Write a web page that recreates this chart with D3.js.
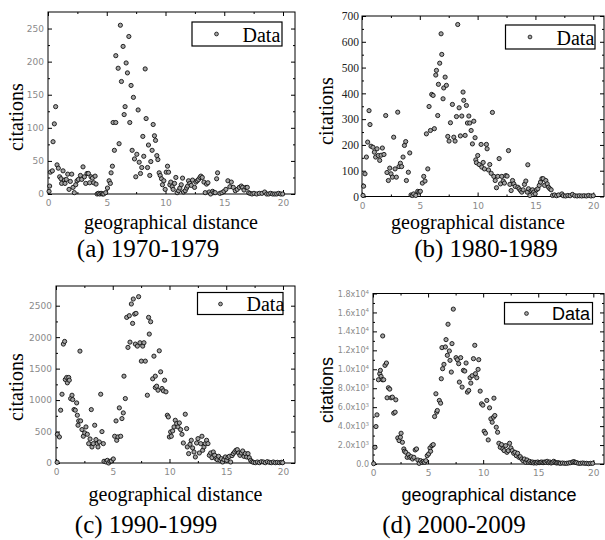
<!DOCTYPE html>
<html>
<head>
<meta charset="utf-8">
<script src="https://cdn.jsdelivr.net/npm/d3@7/dist/d3.min.js"></script>
<style>
  html, body { margin: 0; padding: 0; background: #fff; }
  svg { display: block; }
</style>
</head>
<body>
<svg id="chart" width="605" height="540"></svg>
<script>
// ---------------- DATA ----------------
const xTicks = [0, 5, 10, 15, 20];
const yTicksA = [0, 50, 100, 150, 200, 250];
const yTicksB = [0, 100, 200, 300, 400, 500, 600, 700];
const yTicksC = [0, 500, 1000, 1500, 2000, 2500];
const yTicksD = [0, 2000, 4000, 6000, 8000, 10000, 12000, 14000, 16000, 18000];
const captions = ["(a) 1970-1979", "(b) 1980-1989", "(c) 1990-1999", "(d) 2000-2009"];
const legendLabel = "Data";
const xLabel = "geographical distance";
const yLabel = "citations";

// (a) 1970-1979
const distA = [0.09,0.14,0.20,0.37,0.43,0.54,0.65,0.77,0.88,0.99,
  1.11,1.16,1.28,1.39,1.45,1.56,1.68,1.79,1.90,2.02,
  2.13,2.24,2.36,2.47,2.59,2.76,2.87,2.98,3.10,3.21,
  3.32,3.44,3.55,3.66,3.78,3.89,4.01,4.09,4.18,4.29,
  4.40,4.52,4.63,4.74,4.91,5.06,5.20,5.31,5.37,5.48,
  5.54,5.65,5.77,5.77,5.97,6.05,6.16,6.25,6.39,6.48,
  6.56,6.65,6.76,6.88,6.96,7.07,7.16,7.27,7.36,7.47,
  7.56,7.67,7.76,7.87,7.98,8.07,8.15,8.27,8.35,8.47,
  8.55,8.66,8.75,8.86,8.95,9.06,9.15,9.26,9.35,9.46,
  9.55,9.66,9.74,9.86,9.97,10.06,10.17,10.26,10.37,10.45,
  10.57,10.65,10.77,10.88,10.99,11.11,11.22,11.34,11.45,11.53,
  11.68,11.79,11.88,11.96,12.07,12.19,12.30,12.47,12.59,12.70,
  12.81,12.93,13.01,13.13,13.27,13.38,13.49,13.61,13.72,13.84,
  14.01,14.12,14.23,14.35,14.43,14.63,14.80,14.97,15.14,15.31,
  15.48,15.60,15.77,15.94,16.11,16.28,16.45,16.56,16.68,16.85,
  16.96,17.07,17.19,17.36,17.53,17.76,17.98,18.21,18.44,18.61,
  18.78,18.95,19.12,19.29,19.46,19.63,19.80,19.97];
const citeA = [4,12,33,35,79,106,132,44,39,26,
  23,16,35,21,16,22,30,7,19,30,
  10,2,14,20,22,28,22,41,26,16,
  31,31,17,26,24,17,27,15,0,1,
  0,1,0,0,2,9,20,16,32,42,
  108,66,108,209,190,76,255,170,223,120,
  132,198,183,238,108,164,66,146,53,26,
  60,127,48,31,40,87,57,189,114,40,
  74,28,49,66,105,88,81,58,52,32,
  28,23,14,20,7,33,42,33,14,18,
  11,7,16,25,2,5,9,14,24,3,
  5,9,12,20,16,13,21,10,18,20,
  22,25,27,25,18,2,15,17,3,0,
  4,2,2,23,32,1,2,4,7,20,
  11,18,10,5,7,10,12,10,6,10,
  10,2,1,0,1,0,1,1,3,0,
  0,1,0,0,0,1,0,0];

// (b) 1980-1989
const distB = [0.09,0.14,0.26,0.38,0.49,0.61,0.69,0.78,0.95,1.07,
  1.18,1.30,1.41,1.53,1.65,1.76,1.90,2.05,2.16,2.28,
  2.40,2.51,2.63,2.74,2.86,2.97,3.09,3.20,3.32,3.43,
  3.55,3.67,3.78,3.84,4.01,4.13,4.24,4.36,4.47,4.65,
  4.82,4.94,5.05,5.22,5.34,5.45,5.57,5.69,5.80,5.92,
  6.03,6.15,6.26,6.38,6.44,6.55,6.61,6.72,6.84,6.90,
  7.01,7.07,7.19,7.30,7.42,7.53,7.65,7.82,7.94,8.05,
  8.17,8.28,8.40,8.51,8.63,8.74,8.80,8.92,9.03,9.12,
  9.24,9.32,9.44,9.55,9.67,9.78,9.84,9.90,10.01,10.13,
  10.30,10.36,10.48,10.59,10.76,10.82,10.94,11.05,11.17,11.28,
  11.40,11.52,11.63,11.75,11.86,11.98,12.09,12.21,12.32,12.44,
  12.55,12.67,12.79,12.90,13.02,13.13,13.25,14.34,13.48,13.59,
  13.71,13.82,13.94,14.05,14.17,14.29,14.40,14.52,14.63,14.75,
  14.86,14.98,15.09,15.21,15.33,15.44,15.56,15.67,15.79,15.90,
  16.02,16.13,16.25,16.36,16.48,16.65,16.83,17.00,17.29,17.40,
  17.60,17.80,18.00,18.20,18.40,18.60,18.80,19.00,19.20,19.40,
  19.60,19.80,20.00];
const citeB = [4,40,88,153,211,333,279,195,191,172,
  153,185,159,140,160,188,163,314,93,62,
  110,88,75,230,107,75,327,116,129,116,
  153,198,213,62,94,169,6,4,10,4,
  20,17,20,52,78,60,243,107,349,256,
  396,392,263,471,489,314,435,517,631,551,
  379,421,463,431,233,215,286,357,230,215,
  310,667,344,235,312,405,373,237,353,285,
  312,285,256,204,292,228,142,131,159,124,
  202,114,132,107,202,185,103,124,90,326,
  78,62,34,78,147,49,78,60,52,81,
  79,178,47,23,62,49,39,123,36,30,
  23,17,26,47,60,17,30,4,23,26,
  17,10,26,30,43,56,69,69,43,62,
  49,36,30,26,4,6,3,6,10,3,
  2,4,3,8,3,2,3,2,3,2,
  4,2,3];

// (c) 1990-1999
const distC = [0.10,0.12,0.30,0.41,0.53,0.65,0.76,0.82,0.94,1.00,
  1.12,1.17,1.29,1.41,1.47,1.59,1.70,1.82,1.88,1.94,
  2.00,2.11,2.17,2.29,2.41,2.53,2.64,2.76,2.88,3.00,
  3.11,3.17,3.29,3.41,3.52,3.64,3.70,3.82,3.94,4.05,
  4.17,4.23,4.41,4.52,4.64,4.76,4.88,5.05,5.17,5.29,
  5.35,5.46,5.58,5.70,5.81,5.93,5.99,6.11,6.23,6.34,
  6.46,6.52,6.64,6.75,6.81,6.93,6.99,7.05,7.17,7.28,
  7.40,7.52,7.64,7.75,7.87,8.05,8.16,8.22,8.34,8.52,
  8.63,8.75,8.75,8.87,8.99,9.10,9.22,9.34,9.46,9.57,
  9.69,9.81,9.90,9.99,10.10,10.16,10.28,10.40,10.51,10.63,
  10.75,10.87,10.98,11.10,11.22,11.39,11.51,11.57,11.69,11.81,
  11.92,12.04,12.16,12.28,12.39,12.51,12.63,12.75,12.86,12.92,
  13.04,13.16,13.27,13.39,13.51,13.63,13.74,13.86,13.98,14.10,
  14.21,14.33,14.45,14.57,14.68,14.80,14.92,15.04,15.15,15.27,
  15.39,15.51,15.62,15.74,15.86,15.98,16.09,16.21,16.33,16.45,
  16.56,16.68,16.80,16.92,17.03,17.15,17.27,17.39,17.56,17.74,
  17.92,18.09,18.27,18.44,18.62,18.80,18.97,19.15,19.32,19.50,
  19.68,19.85,19.97];
const citeC = [10,456,414,839,1093,1890,1932,1327,1359,1274,
  1359,1316,1024,1077,1008,849,839,955,759,600,
  669,1778,669,531,425,478,573,456,308,382,
  849,255,308,600,372,308,255,334,1093,499,
  308,27,16,42,0,27,32,64,425,669,
  361,414,876,425,706,796,1380,1024,2314,1837,
  2341,1921,2527,2219,2606,2367,1890,2378,1858,2643,
  1911,1619,1858,1911,1619,1077,2314,2049,2245,1338,
  1698,1380,1200,1221,1157,1783,1449,1184,1147,1316,
  1131,759,732,414,494,425,510,573,679,626,
  573,637,531,456,318,775,547,255,149,297,
  361,239,175,96,318,387,159,308,425,202,
  255,308,361,308,122,159,85,175,122,69,
  53,106,42,69,16,53,96,42,85,106,
  16,117,149,175,202,212,159,122,159,191,
  106,149,96,149,85,42,21,11,5,16,
  5,21,16,5,21,11,5,16,5,11,
  5,11,5];

// (d) 2000-2009
const distD = [0.06,0.18,0.27,0.36,0.49,0.61,0.67,0.73,0.85,0.88,
  0.97,1.09,1.22,1.28,1.40,1.52,1.64,1.76,1.88,2.01,
  2.07,2.25,2.37,2.49,2.55,2.67,2.80,2.86,2.98,3.10,
  3.22,3.34,3.47,3.59,3.71,3.83,3.95,4.07,4.19,4.32,
  4.44,4.56,4.68,4.80,4.92,5.05,5.17,5.23,5.35,5.47,
  5.59,5.71,5.78,5.84,6.02,6.14,6.20,6.26,6.32,6.44,
  6.57,6.63,6.75,6.81,6.93,6.99,7.11,7.17,7.29,7.54,
  7.66,7.78,7.84,7.96,8.09,8.21,8.33,8.45,8.57,8.69,
  8.81,8.88,9.00,9.12,9.24,9.30,9.42,9.54,9.60,9.73,
  9.85,9.97,10.09,10.21,10.33,10.46,10.58,10.70,10.82,10.94,
  10.98,11.06,11.19,11.31,11.43,11.55,11.67,11.79,11.91,12.04,
  12.16,12.28,12.40,12.52,12.64,12.77,12.89,13.01,13.13,13.25,
  13.37,13.50,13.62,13.74,13.86,13.98,14.10,14.22,14.35,14.47,
  14.59,14.71,14.83,14.95,15.08,15.20,15.32,15.44,15.56,15.68,
  15.81,15.93,16.05,16.17,16.29,16.41,16.53,16.66,16.78,16.90,
  17.02,17.20,17.39,17.57,17.75,17.93,18.12,18.24,18.36,18.48,
  18.66,18.84,19.03,19.21,19.39,19.57,19.76,19.94];
const citeD = [35,1765,3953,5189,8895,9530,9884,9248,8895,13519,
  8895,10413,10660,6989,8048,7907,6989,7060,5365,5471,
  6777,2753,2471,2824,3247,2294,1588,1341,1235,706,
  988,706,776,529,706,1483,1588,424,71,353,
  176,282,176,353,882,1059,1694,1341,1941,2047,
  5012,7413,5471,5648,6707,6424,9001,12284,10060,10519,
  12355,13131,11472,14755,11931,10943,9707,12708,16350,11225,
  11013,10590,8648,11225,8119,9884,9813,10660,7589,7766,
  9107,8542,9319,11119,12531,9531,9107,9989,11013,7695,
  6354,6212,3459,3247,6707,2541,5930,4765,4412,4942,
  6950,5118,3883,3353,2188,1765,2047,1588,1412,1941,
  1235,1412,2188,1694,1412,1130,1235,882,1130,706,
  776,529,353,529,176,424,176,282,141,212,
  106,176,106,212,141,176,212,141,212,176,
  282,141,212,106,176,282,176,106,141,106,
  71,106,71,71,106,141,212,247,176,141,
  71,71,106,71,71,35,71,71];

// ---------------- LAYOUT ----------------
const svg = d3.select("#chart");
const SERIF = "'Liberation Serif', 'Times New Roman', serif";
const SANS = "'Liberation Sans', Arial, sans-serif";
const TICKFONT = "'DejaVu Sans', sans-serif";

function supFormat(d) {
  if (d === 0) return { m: "0.0", e: null };
  const e = Math.floor(Math.log10(d) + 1e-9);
  const m = (d / Math.pow(10, e)).toFixed(1);
  return { m: m + "x10", e: String(e) };
}

const panels = [
  { xs: distA, ys: citeA, L: 48, T: 12, R: 295, B: 194, xMax: 21.02, yMax: 275, yTicks: yTicksA,
    yTickFont: TICKFONT, yTickSize: 9, yTickColor: "#8a8a8a", yPad: 4, labelFont: SERIF, labelSize: 20,
    ylx: 22.5, yly: 117, xlx: 171, xly: 228.5, capx: 148, capy: 256.5,
    leg: { x0: 192, y0: 22, x1: 282, y1: 46, mx: 216.5, my: 34, tx: 242.5, ty: 41.5 }, cap: captions[0], fmt: "plain" },
  { xs: distB, ys: citeB, L: 362, T: 16, R: 604, B: 196.5, xMax: 20.93, yMax: 700, yTicks: yTicksB,
    yTickFont: SERIF, yTickSize: 11.5, yTickColor: "#222", yPad: 3, labelFont: SERIF, labelSize: 20,
    ylx: 333, yly: 111, xlx: 478, xly: 228.5, capx: 486, capy: 256.5,
    leg: { x0: 505.5, y0: 25, x1: 595, y1: 49, mx: 530, my: 37, tx: 556.5, ty: 44.5 }, cap: captions[1], fmt: "plain" },
  { xs: distC, ys: citeC, L: 56, T: 286, R: 295, B: 463, xMax: 21.06, yMax: 2813, yTicks: yTicksC,
    yTickFont: TICKFONT, yTickSize: 9, yTickColor: "#8a8a8a", yPad: 4, labelFont: SERIF, labelSize: 20,
    ylx: 23, yly: 387, xlx: 175.5, xly: 501, capx: 146, capy: 533,
    leg: { x0: 197.5, y0: 292.5, x1: 283, y1: 314.5, mx: 220.5, my: 304, tx: 246.5, ty: 310.5 }, cap: captions[2], fmt: "plain" },
  { xs: distD, ys: citeD, L: 373, T: 293.5, R: 604, B: 464, xMax: 20.97, yMax: 18000, yTicks: yTicksD,
    yTickFont: TICKFONT, yTickSize: 8, yTickColor: "#8a8a8a", yPad: 4, labelFont: SANS, labelSize: 18,
    ylx: 333, yly: 390, xlx: 489, xly: 501, capx: 454, capy: 533,
    leg: { x0: 504.5, y0: 302.5, x1: 592.5, y1: 324, mx: 526.5, my: 313.5, tx: 552, ty: 319.5 }, cap: captions[3], fmt: "sup" }
];

panels.forEach(p => {
  const g = svg.append("g");
  const x = d3.scaleLinear().domain([0, p.xMax]).range([p.L, p.R]);
  const y = d3.scaleLinear().domain([0, p.yMax]).range([p.B, p.T]);

  const xMinor = xTicks.slice(0, -1).map((v, i) => (v + xTicks[i + 1]) / 2);
  const yMinor = p.yTicks.slice(0, -1).map((v, i) => (v + p.yTicks[i + 1]) / 2);

  // bottom axis with labels
  const gb = g.append("g").attr("transform", `translate(0,${p.B})`)
    .call(d3.axisBottom(x).tickValues(xTicks).tickSizeInner(-4).tickSizeOuter(0).tickPadding(6));
  gb.selectAll("text").attr("font-family", TICKFONT).attr("font-size", 9).attr("fill", "#8a8a8a");
  // top axis
  g.append("g").attr("transform", `translate(0,${p.T})`)
    .call(d3.axisTop(x).tickValues(xTicks).tickSizeInner(-4).tickSizeOuter(0).tickFormat(""));
  // minor x ticks
  g.append("g").attr("transform", `translate(0,${p.B})`)
    .call(d3.axisBottom(x).tickValues(xMinor).tickSizeInner(-2).tickSizeOuter(0).tickFormat(""));
  g.append("g").attr("transform", `translate(0,${p.T})`)
    .call(d3.axisTop(x).tickValues(xMinor).tickSizeInner(-2).tickSizeOuter(0).tickFormat(""));

  // left axis with labels
  const gl = g.append("g").attr("transform", `translate(${p.L},0)`)
    .call(d3.axisLeft(y).tickValues(p.yTicks).tickSizeInner(-4).tickSizeOuter(0).tickPadding(p.yPad)
      .tickFormat(p.fmt === "plain" ? d3.format("d") : (() => "")));
  gl.selectAll("text").attr("font-family", p.yTickFont).attr("font-size", p.yTickSize).attr("fill", p.yTickColor);
  if (p.fmt === "sup") {
    gl.selectAll(".tick text").each(function (d) {
      const f = supFormat(d);
      const t = d3.select(this);
      t.text(null);
      t.append("tspan").text(f.m);
      if (f.e !== null) {
        t.append("tspan").attr("font-size", 5.5).attr("dy", "-0.55em").text(f.e);
      }
    });
  }
  // right axis
  g.append("g").attr("transform", `translate(${p.R},0)`)
    .call(d3.axisRight(y).tickValues(p.yTicks).tickSizeInner(-4).tickSizeOuter(0).tickFormat(""));
  g.append("g").attr("transform", `translate(${p.L},0)`)
    .call(d3.axisLeft(y).tickValues(yMinor).tickSizeInner(-2).tickSizeOuter(0).tickFormat(""));
  g.append("g").attr("transform", `translate(${p.R},0)`)
    .call(d3.axisRight(y).tickValues(yMinor).tickSizeInner(-2).tickSizeOuter(0).tickFormat(""));

  g.selectAll(".domain").remove();
  g.selectAll(".tick line").attr("stroke", "#000").attr("stroke-width", 1);

  // frame
  g.append("rect").attr("x", p.L).attr("y", p.T).attr("width", p.R - p.L).attr("height", p.B - p.T)
    .attr("fill", "none").attr("stroke", "#000").attr("stroke-width", 1);

  // points
  const pts = p.xs.map((d, i) => [d, p.ys[i]]);
  g.append("g").selectAll("circle").data(pts).join("circle")
    .attr("cx", d => x(d[0])).attr("cy", d => y(d[1])).attr("r", 2.1)
    .attr("fill", "#a3a3a3").attr("stroke", "#111").attr("stroke-width", 0.9);

  // legend
  const lg = p.leg;
  g.append("rect").attr("x", lg.x0).attr("y", lg.y0).attr("width", lg.x1 - lg.x0).attr("height", lg.y1 - lg.y0)
    .attr("fill", "#fff").attr("stroke", "#000").attr("stroke-width", 1.2);
  g.append("circle").attr("cx", lg.mx).attr("cy", lg.my).attr("r", 1.9)
    .attr("fill", "#a3a3a3").attr("stroke", "#111").attr("stroke-width", 0.8);
  g.append("text").attr("x", lg.tx).attr("y", lg.ty).attr("font-family", p.labelFont)
    .attr("font-size", p.labelSize).attr("fill", "#000").text(legendLabel);

  // axis titles
  g.append("text").attr("transform", `translate(${p.ylx},${p.yly}) rotate(-90)`)
    .attr("text-anchor", "middle").attr("font-family", p.labelFont).attr("font-size", p.labelSize)
    .attr("fill", "#000").text(yLabel);
  g.append("text").attr("x", p.xlx).attr("y", p.xly).attr("text-anchor", "middle")
    .attr("font-family", p.labelFont).attr("font-size", p.labelSize).attr("fill", "#000").text(xLabel);

  // caption
  g.append("text").attr("x", p.capx).attr("y", p.capy).attr("text-anchor", "middle")
    .attr("font-family", SERIF).attr("font-size", 25).attr("fill", "#000").text(p.cap);
});
</script>
</body>
</html>
